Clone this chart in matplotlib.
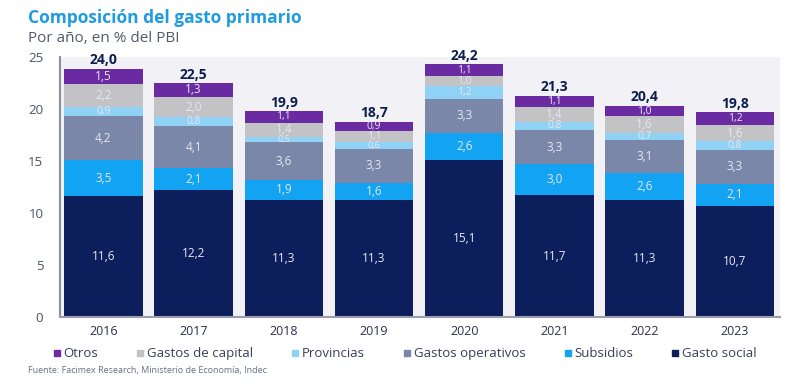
import matplotlib
matplotlib.use("Agg")
import matplotlib.pyplot as plt
from matplotlib.lines import Line2D
import numpy as np

plt.rcParams['font.family'] = ['Open Sans', 'DejaVu Sans']

years = ["2016", "2017", "2018", "2019", "2020", "2021", "2022", "2023"]
gasto_social = [11.6, 12.2, 11.3, 11.3, 15.1, 11.7, 11.3, 10.7]
subsidios = [3.5, 2.1, 1.9, 1.6, 2.6, 3.0, 2.6, 2.1]
gastos_operativos = [4.2, 4.1, 3.6, 3.3, 3.3, 3.3, 3.1, 3.3]
provincias = [0.9, 0.8, 0.5, 0.6, 1.2, 0.8, 0.7, 0.8]
gastos_capital = [2.2, 2.0, 1.4, 1.1, 1.0, 1.4, 1.6, 1.6]
otros = [1.5, 1.3, 1.1, 0.9, 1.1, 1.1, 1.0, 1.2]
totales = [24.0, 22.5, 19.9, 18.7, 24.2, 21.3, 20.4, 19.8]

series = [
    ("Gasto social", gasto_social, "#0c1f5c"),
    ("Subsidios", subsidios, "#12a3f2"),
    ("Gastos operativos", gastos_operativos, "#7b87a8"),
    ("Provincias", provincias, "#8fd2f6"),
    ("Gastos de capital", gastos_capital, "#c3c3c6"),
    ("Otros", otros, "#6a2aa2"),
]

fig = plt.figure(figsize=(8, 3.89), dpi=100)
ax = fig.add_axes([0.075, 0.185, 0.9, 0.668])
ax.set_facecolor("#f2f2f6")

x = np.arange(len(years))
bottom = np.zeros(len(years))
for name, vals, col in series:
    vals = np.array(vals)
    ax.bar(x, vals, bottom=bottom, width=0.87, color=col, label=name, zorder=2)
    for xi, b, v in zip(x, bottom, vals):
        if v >= 1.3:
            fs = 8.5
        elif v >= 0.7:
            fs = 7.5
        else:
            fs = 6.5
        ax.text(xi, b + v / 2, f"{v:.1f}".replace(".", ","), ha="center", va="center",
                color="#e6e8f0", fontsize=fs, zorder=3)
    bottom += vals

for xi, b, t in zip(x, bottom, totales):
    ax.text(xi, b + 0.15, f"{t:.1f}".replace(".", ","), ha="center", va="bottom",
            color="#0c1f4c", fontsize=10, fontweight="bold", zorder=3)

ax.set_xlim(-0.48, 7.5)
ax.set_ylim(0, 25)
ax.set_yticks([0, 5, 10, 15, 20, 25])
ax.set_xticks(x)
ax.set_xticklabels(years)
ax.tick_params(axis="y", length=0, labelsize=9.5, labelcolor="#4a4f66", pad=12)
ax.tick_params(axis="x", length=0, labelsize=9, labelcolor="#2a2f4a", pad=6)
for s in ["top", "right"]:
    ax.spines[s].set_visible(False)
ax.spines["left"].set_color("#8a8fa0")
ax.spines["left"].set_linewidth(1.5)
ax.spines["bottom"].set_color("#9a9eab")
ax.spines["bottom"].set_linewidth(1.5)

handles = []
for name, vals, col in reversed(series):
    handles.append(Line2D([0], [0], marker="s", linestyle="none", markersize=5,
                          markerfacecolor=col, markeredgecolor=col, label=name))
fig.legend(handles=handles, loc="center", bbox_to_anchor=(0.505, 0.09), ncol=6,
           frameon=False, fontsize=9.5, handletextpad=0.1, columnspacing=2.8,
           handlelength=0.8, labelcolor="#3a3f55")

fig.text(0.035, 0.955, "Composición del gasto primario", color="#1f9be0",
         fontsize=12.5, fontweight="bold", ha="left", va="center")
fig.text(0.035, 0.9, "Por año, en % del PBI", color="#555a66",
         fontsize=11, ha="left", va="center")
fig.text(0.035, 0.048, "Fuente: Facimex Research, Ministerio de Economía, Indec",
         color="#6a6f80", fontsize=6.5, ha="left", va="center")

fig.savefig("out.png", dpi=100)
